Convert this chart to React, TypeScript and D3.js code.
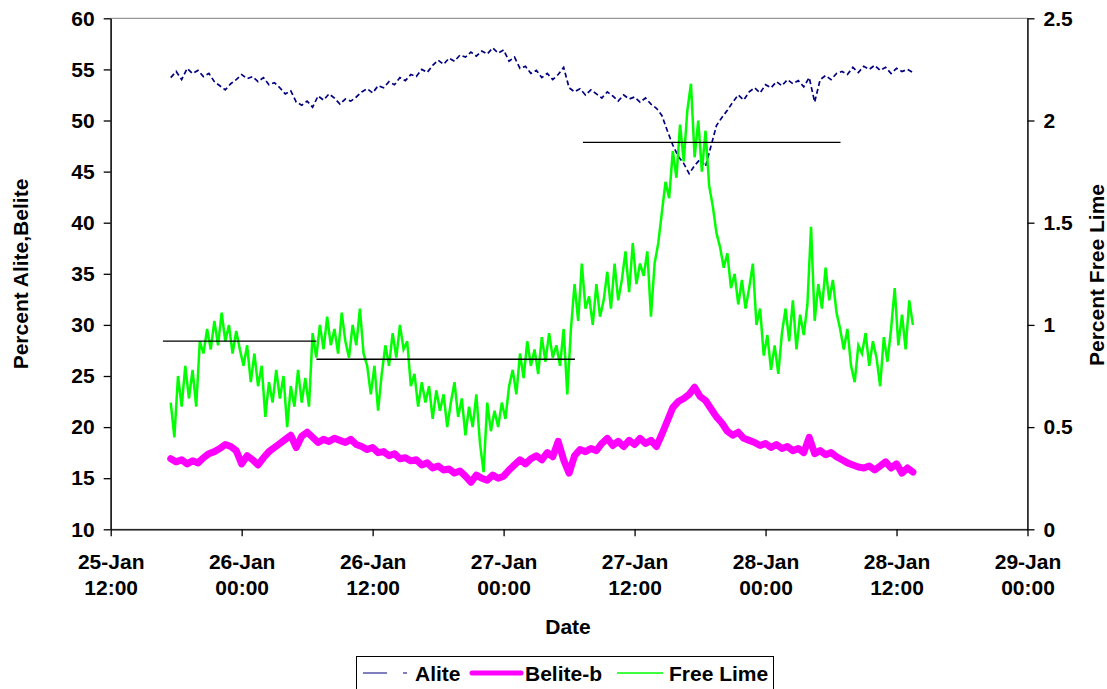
import React, { useEffect, useRef } from "react";
import * as d3 from "d3";

const W = 1107;
const H = 689;
const PLOT = { left: 110.7, right: 1027.5, top: 18.3, bottom: 529.3 };
const FONT = "'Liberation Sans', Arial, Helvetica, sans-serif";
const FS = 21;

// time base
const X_START = new Date(2005, 0, 25, 12, 0);
const X_END = new Date(2005, 0, 29, 0, 0);
const SERIES_START = new Date(2005, 0, 25, 17, 30);
const AB_STEP_MIN = 30;
const FL_STEP_MIN = 20;

const xTickDates = [
  new Date(2005, 0, 25, 12, 0),
  new Date(2005, 0, 26, 0, 0),
  new Date(2005, 0, 26, 12, 0),
  new Date(2005, 0, 27, 0, 0),
  new Date(2005, 0, 27, 12, 0),
  new Date(2005, 0, 28, 0, 0),
  new Date(2005, 0, 28, 12, 0),
  new Date(2005, 0, 29, 0, 0),
];
const leftTicks = [10, 15, 20, 25, 30, 35, 40, 45, 50, 55, 60];
const rightTicks = [0, 0.5, 1, 1.5, 2, 2.5];

// Alite (%), 30-minute samples
const aliteValues = [
  54.2, 54.8, 54.0, 55.1, 54.6, 54.9, 54.3, 54.6, 53.8, 53.4,
  53.0, 53.6, 54.0, 54.5, 54.1, 54.3, 53.8, 54.2, 53.5, 53.7,
  53.2, 52.6, 52.9, 51.8, 51.5, 51.9, 51.3, 52.4, 52.0, 52.6,
  52.2, 51.6, 52.1, 51.9, 52.3, 52.8, 53.1, 52.7, 53.4, 53.2,
  53.8, 53.5, 54.2, 53.9, 54.5, 54.3, 55.0, 54.7, 55.4, 55.9,
  55.5, 56.1, 55.8, 56.4, 56.2, 56.7, 56.3, 56.8, 56.5, 57.1,
  56.6, 56.9, 55.8, 56.2, 55.1, 55.3, 54.6, 54.9, 54.2, 54.6,
  54.0, 54.5, 55.2, 53.2, 52.8, 53.1, 52.5, 53.0, 52.6, 52.2,
  52.8, 52.4, 51.9, 52.5, 52.1, 52.3, 51.8, 52.2, 51.6, 51.2,
  50.5, 49.0, 47.6, 46.5, 45.8, 44.8, 45.6, 46.2, 45.5, 47.5,
  49.5, 50.3, 51.0, 51.8, 52.5, 52.0, 52.8, 53.2, 52.7, 53.5,
  53.2, 53.8, 53.4, 54.0, 53.6, 53.9, 53.3, 54.2, 51.8, 54.0,
  54.4, 54.0, 54.6, 54.8, 54.5, 55.2, 54.7, 55.3, 55.0, 55.4,
  54.9, 55.2, 54.6, 55.1, 54.8, 55.0, 54.7,
];

// Belite-b (%), 30-minute samples
const beliteValues = [
  16.9, 16.6, 16.8, 16.4, 16.7, 16.5, 17.0, 17.4, 17.6, 17.9,
  18.3, 18.1, 17.7, 16.4, 17.2, 16.8, 16.3, 17.0, 17.6, 18.0,
  18.4, 18.8, 19.2, 18.0, 19.1, 19.5, 19.0, 18.5, 18.8, 18.6,
  18.9, 18.7, 18.5, 18.8, 18.3, 18.1, 17.8, 18.0, 17.5, 17.6,
  17.2, 17.4, 16.9, 17.0, 16.7, 16.8, 16.3, 16.5, 16.0, 16.2,
  15.8, 15.9, 15.5, 15.7, 15.2, 14.6, 15.3, 15.0, 14.8, 15.3,
  15.0, 15.2, 15.8, 16.3, 16.8, 16.4, 16.9, 17.2, 16.8, 17.5,
  17.1, 18.6, 16.8, 15.5, 17.2, 17.8, 17.6, 17.9, 17.7, 18.4,
  18.9, 18.2, 18.6, 18.1, 18.7, 18.3, 18.9, 18.4, 18.7, 18.1,
  19.3, 20.6, 21.9, 22.5, 22.8, 23.2, 23.9, 23.0, 22.6, 21.8,
  21.0, 20.4, 19.6, 19.2, 19.5, 18.9, 18.7, 18.5, 18.2, 18.4,
  18.0, 18.3, 17.9, 18.1, 17.7, 17.9, 17.5, 19.0, 17.4, 17.7,
  17.3, 17.5, 17.1, 16.8, 16.5, 16.3, 16.1, 16.0, 16.2, 15.8,
  16.2, 16.6, 16.0, 16.4, 15.5, 16.0, 15.6,
];

// Free Lime (%), 20-minute samples
const freeLimeValues = [
  0.62, 0.45, 0.75, 0.60, 0.80, 0.64, 0.78, 0.60, 0.92, 0.86,
  0.98, 0.88, 1.02, 0.90, 1.06, 0.92, 1.00, 0.86, 0.97, 0.88,
  0.80, 0.90, 0.72, 0.86, 0.70, 0.80, 0.55, 0.72, 0.62, 0.78,
  0.64, 0.75, 0.50, 0.70, 0.60, 0.78, 0.62, 0.74, 0.60, 0.96,
  0.84, 1.00, 0.88, 1.04, 0.90, 0.98, 0.86, 1.06, 0.92, 0.84,
  1.00, 0.90, 1.08, 0.86, 0.80, 0.66, 0.80, 0.58, 0.76, 0.90,
  0.80, 0.96, 0.84, 1.00, 0.88, 0.92, 0.70, 0.76, 0.60, 0.72,
  0.62, 0.70, 0.54, 0.68, 0.58, 0.66, 0.50, 0.62, 0.72, 0.55,
  0.64, 0.46, 0.60, 0.50, 0.66, 0.42, 0.28, 0.62, 0.48, 0.58,
  0.50, 0.62, 0.54, 0.70, 0.78, 0.66, 0.86, 0.74, 0.92, 0.80,
  0.88, 0.76, 0.94, 0.82, 0.96, 0.84, 0.90, 0.80, 0.98, 0.66,
  0.98, 1.20, 1.02, 1.30, 1.08, 1.14, 1.00, 1.20, 1.04, 1.12,
  1.26, 1.08, 1.30, 1.12, 1.22, 1.36, 1.16, 1.40, 1.20, 1.30,
  1.24, 1.36, 1.04, 1.30, 1.40, 1.55, 1.70, 1.62, 1.85, 1.72,
  1.98, 1.80, 2.05, 2.18, 1.82, 2.00, 1.75, 1.95, 1.68, 1.58,
  1.45, 1.38, 1.28, 1.35, 1.18, 1.25, 1.10, 1.22, 1.08, 1.18,
  1.30, 1.00, 1.08, 0.85, 0.95, 0.78, 0.90, 0.76, 0.96, 1.08,
  0.92, 1.12, 0.88, 1.05, 0.95, 1.10, 1.48, 1.02, 1.20, 1.08,
  1.28, 1.12, 1.22, 1.06, 0.98, 0.88, 0.98, 0.80, 0.72, 0.90,
  0.86, 0.96, 0.80, 0.92, 0.84, 0.70, 0.94, 0.82, 0.98, 1.18,
  0.90, 1.05, 0.88, 1.12, 1.00,
];

// Free lime period averages (secondary axis)
const meanStarts = [
  new Date(2005, 0, 25, 16, 47),
  new Date(2005, 0, 26, 6, 51),
  new Date(2005, 0, 27, 7, 16),
];
const meanEnds = [
  new Date(2005, 0, 26, 6, 51),
  new Date(2005, 0, 27, 6, 32),
  new Date(2005, 0, 28, 6, 52),
];
const meanValues = [0.921, 0.832, 1.893];

export default function App() {
  const ref = useRef<SVGSVGElement>(null);

  useEffect(() => {
    const svg = d3.select(ref.current);
    svg.selectAll("*").remove();

    const x = d3.scaleTime().domain([X_START, X_END]).range([PLOT.left, PLOT.right]);
    const yL = d3.scaleLinear().domain([10, 60]).range([PLOT.bottom, PLOT.top]);
    const yR = d3.scaleLinear().domain([0, 2.5]).range([PLOT.bottom, PLOT.top]);

    const abTime = (i: number) => d3.timeMinute.offset(SERIES_START, i * AB_STEP_MIN);
    const flTime = (i: number) => d3.timeMinute.offset(SERIES_START, i * FL_STEP_MIN);

    svg.append("rect").attr("width", W).attr("height", H).attr("fill", "#fff");

    // plot area border
    svg
      .append("rect")
      .attr("x", PLOT.left)
      .attr("y", PLOT.top)
      .attr("width", PLOT.right - PLOT.left)
      .attr("height", PLOT.bottom - PLOT.top)
      .attr("fill", "none")
      .attr("stroke", "#808080")
      .attr("stroke-width", 1);

    const lineL = d3
      .line<number>()
      .x((_, i) => x(abTime(i)))
      .y((d) => yL(d));
    const lineFL = d3
      .line<number>()
      .x((_, i) => x(flTime(i)))
      .y((d) => yR(d));

    svg
      .append("path")
      .attr("d", lineL(aliteValues))
      .attr("fill", "none")
      .attr("stroke", "#000080")
      .attr("stroke-width", 1.7)
      .attr("stroke-dasharray", "5,3");

    svg
      .append("path")
      .attr("d", lineL(beliteValues))
      .attr("fill", "none")
      .attr("stroke", "#FF00FF")
      .attr("stroke-width", 7)
      .attr("stroke-linejoin", "round")
      .attr("stroke-linecap", "round");

    svg
      .append("path")
      .attr("d", lineFL(freeLimeValues))
      .attr("fill", "none")
      .attr("stroke", "#00FF00")
      .attr("stroke-width", 2.5)
      .attr("stroke-linejoin", "miter");

    meanValues.forEach((v, i) => {
      svg
        .append("line")
        .attr("x1", x(meanStarts[i]))
        .attr("x2", x(meanEnds[i]))
        .attr("y1", yR(v))
        .attr("y2", yR(v))
        .attr("stroke", "#000")
        .attr("stroke-width", 1.3);
    });

    const styleAxis = (g: any) => {
      g.selectAll("path").attr("stroke", "#000").attr("stroke-width", 1.3);
      g.selectAll("line").attr("stroke", "#000").attr("stroke-width", 1.3);
      g.selectAll("text")
        .attr("fill", "#000")
        .style("font-family", FONT)
        .style("font-size", FS + "px")
        .style("font-weight", "bold");
    };

    const gl = svg
      .append("g")
      .attr("transform", `translate(${PLOT.left},0)`)
      .call(d3.axisLeft(yL).tickValues(leftTicks).tickSize(7).tickSizeOuter(0).tickPadding(9).tickFormat(d3.format("d")));
    styleAxis(gl);

    const gr = svg
      .append("g")
      .attr("transform", `translate(${PLOT.right},0)`)
      .call(
        d3
          .axisRight(yR)
          .tickValues(rightTicks)
          .tickSize(7)
          .tickSizeOuter(0)
          .tickPadding(9)
          .tickFormat((d: any) => String(d))
      );
    styleAxis(gr);

    const gx = svg
      .append("g")
      .attr("transform", `translate(0,${PLOT.bottom})`)
      .call(d3.axisBottom(x).tickValues(xTickDates).tickSize(7).tickSizeOuter(0).tickFormat(() => ""));
    styleAxis(gx);
    const fmtD = d3.timeFormat("%d-%b");
    const fmtT = d3.timeFormat("%H:%M");
    gx.selectAll(".tick text").each(function (d: any) {
      const t = d3.select(this);
      t.attr("y", 0).attr("dy", null).text(null);
      t.append("tspan").attr("x", 0).attr("y", 40).text(fmtD(d));
      t.append("tspan").attr("x", 0).attr("y", 66).text(fmtT(d));
    });

    const title = (txt: string, tx: number, ty: number, rot: number) =>
      svg
        .append("text")
        .attr("transform", `translate(${tx},${ty}) rotate(${rot})`)
        .attr("text-anchor", "middle")
        .style("font-family", FONT)
        .style("font-size", FS + "px")
        .style("font-weight", "bold")
        .attr("fill", "#000")
        .text(txt);

    title("Percent Alite,Belite", 27.5, 274, -90);
    title("Percent Free Lime", 1104, 275, -90);
    title("Date", 568, 634, 0);

    // legend
    const lg = svg.append("g");
    lg.append("rect")
      .attr("x", 356.5)
      .attr("y", 656.5)
      .attr("width", 417)
      .attr("height", 40)
      .attr("fill", "#fff")
      .attr("stroke", "#000")
      .attr("stroke-width", 1);
    const ly = 673;
    lg.append("line")
      .attr("x1", 363)
      .attr("x2", 407)
      .attr("y1", ly)
      .attr("y2", ly)
      .attr("stroke", "#000080")
      .attr("stroke-width", 1.2)
      .attr("stroke-dasharray", "24,16");
    lg.append("line")
      .attr("x1", 472)
      .attr("x2", 521)
      .attr("y1", ly)
      .attr("y2", ly)
      .attr("stroke", "#FF00FF")
      .attr("stroke-width", 5)
      .attr("stroke-linecap", "round");
    lg.append("line")
      .attr("x1", 617)
      .attr("x2", 663)
      .attr("y1", ly)
      .attr("y2", ly)
      .attr("stroke", "#00FF00")
      .attr("stroke-width", 1.6);
    const legendLabels = ["Alite", "Belite-b", "Free Lime"];
    const legendX = [415, 525, 669];
    legendLabels.forEach((s, i) => {
      lg.append("text")
        .attr("x", legendX[i])
        .attr("y", 680.5)
        .style("font-family", FONT)
        .style("font-size", FS + "px")
        .style("font-weight", "bold")
        .attr("fill", "#000")
        .text(s);
    });
  }, []);

  return (
    <svg
      ref={ref}
      width={W}
      height={H}
      style={{ position: "absolute", left: 0, top: 0, background: "#fff" }}
    />
  );
}
